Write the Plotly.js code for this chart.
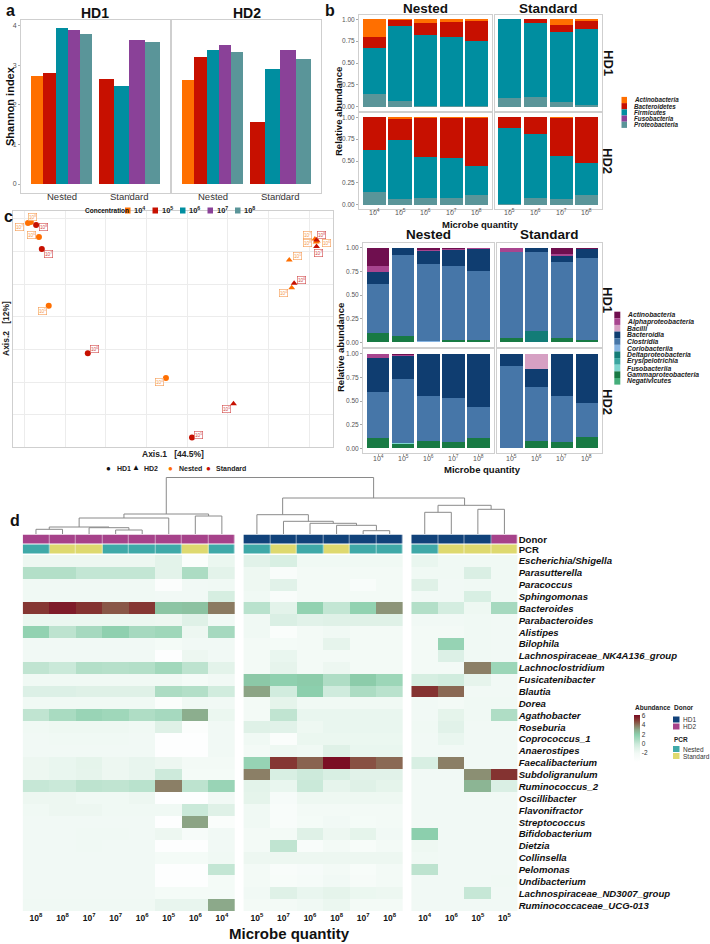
<!DOCTYPE html>
<html><head><meta charset="utf-8">
<script src="https://cdn.plot.ly/plotly-3.0.1.min.js"></script>
<style>html,body{margin:0;padding:0;background:#fff;}#chart{width:710px;height:944px;}</style>
</head><body><div id="chart"></div><script>
// ================= DATA =================
const concentrations = ['10^4','10^5','10^6','10^7','10^8'];
const concColors = ['#FF6F00','#C71000','#008EA0','#8A4198','#5A9599'];
const pcrGroups = ['Nested','Standard'];
const nestedSamples = ['10^4','10^5','10^6','10^7','10^8'];
const standardSamples = ['10^5','10^6','10^7','10^8'];

// Panel a : Shannon index
const shannonHD1Nested   = [2.72, 2.81, 3.94, 3.89, 3.80];
const shannonHD1Standard = [2.66, 2.47, 3.65, 3.58];
const shannonHD2Nested   = [2.64, 3.21, 3.38, 3.51, 3.33];
const shannonHD2Standard = [1.56, 2.90, 3.38, 3.16];

// Panel b (top) : phylum relative abundance, rows follow `phyla`
const phyla = ['Actinobacteria','Bacteroidetes','Firmicutes','Fusobacteria','Proteobacteria'];
const phylumColors = ['#FF6F00','#C71000','#008EA0','#8A4198','#5A9599'];
const phylumHD1Nested = [
  [0.20, 0.01, 0.04, 0.03, 0.015],
  [0.13, 0.07, 0.14, 0.17, 0.235],
  [0.52, 0.86, 0.815, 0.79, 0.74],
  [0, 0, 0, 0, 0],
  [0.15, 0.06, 0.005, 0.01, 0.01]];
const phylumHD1Standard = [
  [0, 0, 0.07, 0.015],
  [0, 0.045, 0.07, 0.095],
  [0.905, 0.845, 0.805, 0.87],
  [0, 0, 0, 0],
  [0.095, 0.11, 0.055, 0.02]];
const phylumHD2Nested = [
  [0, 0.02, 0.01, 0.005, 0.005],
  [0.374, 0.243, 0.44, 0.461, 0.555],
  [0.486, 0.677, 0.47, 0.454, 0.33],
  [0, 0, 0, 0, 0],
  [0.14, 0.06, 0.08, 0.08, 0.11]];
const phylumHD2Standard = [
  [0, 0, 0.01, 0],
  [0.122, 0.187, 0.437, 0.523],
  [0.875, 0.737, 0.488, 0.367],
  [0, 0, 0, 0],
  [0.003, 0.076, 0.065, 0.11]];

// Panel b (bottom) : class relative abundance, rows follow `classes`
const classes = ['Actinobacteria','Alphaproteobacteria','Bacilli','Bacteroidia','Clostridia','Coriobacteriia',
  'Deltaproteobacteria','Erysipelotrichia','Fusobacteriia','Gammaproteobacteria','Negativicutes'];
const classColors = ['#6f0f4f','#a8458f','#d6a0c3','#0f3d70','#4676a8','#86b4e2','#137c77','#3aa6a0','#7ed6cf','#187a44','#45ae7a'];
const classHD1Nested = [
  [0.19, 0, 0.02, 0.015, 0.005],
  [0.064, 0, 0.015, 0.01, 0.005],
  [0, 0, 0, 0, 0],
  [0.133, 0.08, 0.135, 0.169, 0.233],
  [0.513, 0.853, 0.815, 0.786, 0.732],
  [0.005, 0, 0.01, 0, 0.005],
  [0, 0, 0, 0, 0],
  [0, 0, 0, 0, 0],
  [0, 0, 0, 0, 0],
  [0.095, 0.067, 0.005, 0.02, 0.02],
  [0, 0, 0, 0, 0]];
const classHD1Standard = [
  [0, 0, 0.067, 0.01],
  [0.05, 0, 0.018, 0.008],
  [0, 0, 0, 0],
  [0, 0.042, 0.063, 0.088],
  [0.90, 0.843, 0.812, 0.874],
  [0, 0, 0, 0],
  [0, 0.115, 0, 0],
  [0, 0, 0, 0],
  [0, 0, 0, 0],
  [0.05, 0, 0.04, 0.02],
  [0, 0, 0, 0]];
const classHD2Nested = [
  [0, 0.01, 0, 0, 0],
  [0.042, 0.015, 0.005, 0.005, 0],
  [0, 0, 0, 0, 0],
  [0.366, 0.243, 0.442, 0.46, 0.567],
  [0.486, 0.676, 0.473, 0.465, 0.327],
  [0, 0, 0.006, 0, 0],
  [0, 0, 0, 0, 0],
  [0, 0, 0, 0, 0],
  [0, 0.01, 0, 0, 0],
  [0.106, 0.046, 0.074, 0.07, 0.106],
  [0, 0, 0, 0, 0]];
const classHD2Standard = [
  [0, 0, 0, 0],
  [0, 0, 0.005, 0],
  [0, 0.165, 0, 0],
  [0.13, 0.184, 0.439, 0.521],
  [0.865, 0.571, 0.486, 0.363],
  [0, 0, 0, 0],
  [0, 0, 0, 0],
  [0, 0, 0, 0],
  [0, 0, 0, 0],
  [0.005, 0.08, 0.07, 0.116],
  [0, 0, 0, 0]];

// Panel c : PCoA
const pcoaDonor = ['HD1','HD1','HD1','HD1','HD1','HD1','HD1','HD1','HD1','HD2','HD2','HD2','HD2','HD2','HD2','HD2','HD2','HD2'];
const pcoaPCR   = ['Nested','Nested','Nested','Nested','Nested','Standard','Standard','Standard','Standard',
                   'Nested','Nested','Nested','Nested','Nested','Standard','Standard','Standard','Standard'];
const pcoaConc  = ['10^4','10^5','10^6','10^7','10^8','10^5','10^6','10^7','10^8',
                   '10^4','10^5','10^6','10^7','10^8','10^5','10^6','10^7','10^8'];
const pcoaAxis1 = [0.048,-0.240,-0.264,-0.291,-0.284, 0.112,-0.144,-0.257,-0.271,
                   0.357, 0.351, 0.420, 0.414, 0.417, 0.214, 0.363, 0.418, 0.418];
const pcoaAxis2 = [-0.087, 0.134, 0.344, 0.387, 0.390,-0.269,-0.011, 0.308, 0.381,
                    0.189, 0.274, 0.332, 0.338, 0.329,-0.166, 0.203, 0.315, 0.335];
// label nudges (px) for the repelled labels
const pcoaLabelDX = [-6,-6,-7,-8, 2, 7, 7, 7, 7,  -8, 8, 9,-7,-9,-7, 7, 2, 5];
const pcoaLabelDY = [ 4, 5,-2, 4,-5,-3,-4, 5, 2,   5,-4, 2,-4, 1, 5,-3, 6,-5];

// Panel d : heatmap
const genera = ['Escherichia/Shigella','Parasutterella','Paracoccus','Sphingomonas','Bacteroides','Parabacteroides',
  'Alistipes','Bilophila','Lachnospiraceae_NK4A136_group','Lachnoclostridium','Fusicatenibacter','Blautia','Dorea',
  'Agathobacter','Roseburia','Coprococcus_1','Anaerostipes','Faecalibacterium','Subdoligranulum','Ruminococcus_2',
  'Oscillibacter','Flavonifractor','Streptococcus','Bifidobacterium','Dietzia','Collinsella','Pelomonas',
  'Undibacterium','Lachnospiraceae_ND3007_group','Ruminococcaceae_UCG-013'];
const heatConc  = [['10^8','10^8','10^7','10^7','10^6','10^5','10^6','10^4'],
                   ['10^5','10^7','10^6','10^8','10^7','10^8'],
                   ['10^4','10^6','10^5','10^5']];
const heatDonor = [['HD2','HD2','HD2','HD2','HD2','HD2','HD2','HD2'],
                   ['HD1','HD1','HD1','HD1','HD1','HD1'],
                   ['HD1','HD1','HD1','HD2']];
const heatPCR   = [['Nested','Standard','Standard','Nested','Nested','Nested','Standard','Nested'],
                   ['Nested','Standard','Nested','Standard','Nested','Nested'],
                   ['Nested','Standard','Standard','Standard']];
const abundanceBlock1 = [
  [-1.6,-1.6,-1.6,-1.6,-1.6,-1.0,-3.0,-1.5],
  [ 0.8, 0.8, 0.3, 0.3, 0.3,-1.0, 1.0,-1.0],
  [-1.8,-1.8,-1.8,-1.8,-1.8,-3.2,-1.9,-1.8],
  [-1.8,-1.8,-1.8,-1.8,-1.8,-1.9,-1.9,-0.4],
  [ 5.2, 5.8, 5.3, 4.6, 5.2, 2.3, 2.4, 4.0],
  [-1.5,-1.5,-1.5,-1.5,-1.5,-1.6,-0.8,-1.9],
  [ 1.8, 0.5, 1.2, 1.9, 1.2, 1.4,-1.6, 1.2],
  [-1.9,-1.9,-1.9,-1.9,-1.9,-2.2,-1.9,-1.9],
  [-1.9,-1.9,-1.9,-1.9,-1.9,-3.5,-1.6,-1.9],
  [ 0.4, 0.1, 0.8, 0.7, 0.8, 1.3, 0.5,-1.0],
  [-1.8,-1.8,-1.8,-1.8,-1.8,-1.8,-2.2,-1.9],
  [-0.7,-0.7,-0.8,-0.8,-0.8, 1.0, 0.8,-0.2],
  [-1.8,-1.8,-1.8,-1.8,-1.8,-3.0,-1.8,-1.9],
  [ 0.4, 1.1, 1.6, 1.4, 0.9, 1.2, 3.0,-1.5],
  [-1.8,-1.7,-1.7,-1.7,-1.8,-0.8,-3.2,-1.9],
  [-1.9,-1.8,-1.8,-1.8,-1.9,-3.5,-3.5,-1.9],
  [-1.9,-1.9,-1.9,-1.9,-1.9,-3.5,-3.5,-1.9],
  [-1.6,-1.4,-1.1,-1.6,-1.3,-1.6,-2.0,-2.0],
  [-1.6,-1.4,-1.2,-1.6,-1.3, 0.0,-2.2,-2.2],
  [ 0.2, 0.1, 0.5, 0.4, 0.6, 3.9, 0.5, 1.6],
  [-1.6,-1.6,-1.8,-1.8,-1.6,-3.5,-3.5,-1.9],
  [-1.8,-1.6,-1.6,-1.8,-1.8,-1.8, 0.1,-0.8],
  [-1.9,-1.9,-1.9,-1.9,-1.9,-3.5, 3.2,-3.0],
  [-1.9,-1.9,-1.8,-1.8,-1.9,-1.6,-2.5,-1.9],
  [-1.9,-1.9,-1.8,-1.9,-1.9,-3.5,-3.5,-1.9],
  [-1.9,-1.9,-1.9,-1.9,-1.9,-2.2,-2.2,-1.8],
  [-1.9,-1.9,-1.9,-1.9,-1.9,-3.5,-3.5, 0.3],
  [-1.9,-1.9,-1.9,-1.9,-1.9,-3.5,-3.5,-2.2],
  [-1.9,-1.9,-1.9,-1.9,-1.9,-2.2,-2.2,-2.2],
  [-1.8,-1.8,-1.8,-1.8,-1.8,-1.3,-1.3, 3.1]];
const abundanceBlock2 = [
  [-0.9,-0.5,-1.8,-1.8,-1.8,-1.8],
  [-1.7,-2.8,-2.0,-2.0,-2.0,-2.0],
  [-1.7,-0.9,-2.0,-2.0,-2.8,-2.0],
  [-1.8,-2.8,-2.0,-2.0,-2.0,-2.0],
  [ 0.6,-1.0, 1.8, 0.3, 1.8, 3.5],
  [-1.8,-0.6,-0.9,-0.8,-0.8,-0.8],
  [-1.8,-3.0,-2.0,-1.8,-2.0,-2.0],
  [-2.0,-2.2,-2.0,-1.2,-2.0,-2.0],
  [-2.0,-1.4,-2.0,-2.0,-2.0,-2.0],
  [-2.0,-1.2,-2.0,-1.6,-2.0,-2.0],
  [ 2.2, 1.9, 2.1, 0.9, 2.1, 1.5],
  [ 3.2,-0.2, 2.0,-0.1, 1.0, 0.6],
  [-2.0,-1.1,-1.8,-1.8,-1.8,-1.8],
  [-2.0, 0.4,-1.4,-1.4,-1.4,-1.4],
  [-0.8,-0.9,-1.7,-1.4,-1.4,-1.4],
  [-1.8,-3.0,-1.5,-1.5,-1.5,-1.5],
  [-2.0,-1.7,-1.8,-0.8,-1.4,-1.4],
  [ 1.7, 5.2, 4.4, 6.1, 4.7, 4.3],
  [ 3.9,-0.5, 0.0,-0.5,-0.9,-0.9],
  [-1.0,-1.4, 0.1,-1.2,-0.8,-1.1],
  [-1.1,-2.5,-1.7,-1.7,-1.7,-1.7],
  [-1.8,-2.8,-2.0,-2.0,-2.0,-2.0],
  [-1.8,-2.8,-2.2,-1.9,-2.2,-2.0],
  [-2.0,-2.0,-0.8,-1.6,-1.1,-1.9],
  [-2.0, 0.4,-2.8,-2.0,-2.6,-2.0],
  [-1.6,-1.6,-1.6,-1.6,-1.6,-1.6],
  [-2.0,-2.8,-2.5,-2.0,-2.6,-2.0],
  [-2.0,-2.6,-2.3,-1.9,-2.4,-2.0],
  [-1.9,-0.8,-1.4,-1.1,-1.5,-1.6],
  [-2.0,-2.0,-1.8,-1.5,-2.0,-2.0]];
const abundanceBlock3 = [
  [-1.4,-1.8,-1.8,-1.8],
  [-1.8,-1.8,-0.6,-1.8],
  [-0.8,-1.9,-1.8,-1.8],
  [-1.9,-1.9,-0.5,-1.8],
  [ 0.8,-0.3,-1.7, 1.2],
  [-1.9,-1.9,-1.8,-1.9],
  [-2.0,-2.0,-1.8,-1.9],
  [-2.0, 1.7,-1.8,-1.9],
  [-2.0,-0.7,-1.8,-1.9],
  [-2.0,-2.0, 3.9, 1.5],
  [-0.4,-0.2,-1.2,-1.9],
  [ 5.3, 4.3,-1.9,-1.9],
  [-1.9,-2.0,-1.8,-1.8],
  [-1.9,-1.1,-1.8, 0.9],
  [-1.8,-0.9,-1.9,-1.9],
  [-1.9,-1.4,-1.9,-1.9],
  [-1.9,-1.9,-1.9,-1.9],
  [-0.5, 3.9,-1.9,-1.9],
  [-1.9,-1.9, 3.6, 5.3],
  [-1.9,-1.9, 2.8,-0.6],
  [-1.9,-1.9,-1.9,-1.9],
  [-1.9,-1.9,-1.9,-1.9],
  [-1.9,-1.9,-1.9,-1.9],
  [ 2.0,-1.9,-1.9,-1.9],
  [-1.7,-1.9,-1.9,-1.9],
  [-1.8,-1.9,-1.9,-1.9],
  [ 0.5,-1.9,-1.9,-1.9],
  [-1.9,-1.9,-1.9,-1.8],
  [-1.9,-1.9, 0.2,-1.9],
  [-1.9,-1.9,-1.9,-1.9]];
// column dendrogram (hclust style): negative = leaf column (1-based), positive = earlier merge (1-based)
const dendroLeft   = [-1,-4,-3, 1, 4,-7, 5, -13,-12,-11,-10, -9, -15,-17, 13, 12,  7];
const dendroRight  = [-2,-5, 2, 3,-6,-8, 6, -14,  8,  9, 10, 11, -16,-18, 14, 15, 16];
const dendroHeight = [4.7,4.0,6.3,7.0,16,18,20, 3.3,8.7,10.7,12.7,19.3, 21.7,24.7,28.7,36,56.5];

// ================= LAYOUT HELPERS =================
const W = 710, H = 944;
const dx = (a, b) => [a / W, b / W];
const dy = (t, b) => [1 - b / H, 1 - t / H];
const FONT = 'Liberation Sans, Arial, Helvetica, sans-serif';
const sup = c => '10<sup>' + c.split('^')[1] + '</sup>';
const traces = [];
const annotations = [];
const shapes = [];
const layout = {
  width: W, height: H, margin: {l: 0, r: 0, t: 0, b: 0}, paper_bgcolor: '#fff', plot_bgcolor: '#fff',
  font: {family: FONT, color: '#222'}, showlegend: false, barmode: 'stack'
};
const boxAxis = () => ({showline: true, mirror: true, linecolor: '#cfcfcf', linewidth: 1, showgrid: false, zeroline: false, fixedrange: true});
function ann(x, y, text, opts) {
  annotations.push(Object.assign({xref: 'paper', yref: 'paper', x: x / W, y: 1 - y / H, text: text, showarrow: false,
    xanchor: 'center', yanchor: 'middle', font: {size: 10, family: FONT, color: '#111'}}, opts || {}));
}
function rect(x0, y0, x1, y1, color) {
  shapes.push({type: 'rect', xref: 'paper', yref: 'paper', x0: x0 / W, x1: x1 / W, y0: 1 - y1 / H, y1: 1 - y0 / H,
    fillcolor: color, line: {width: 0}});
}

// ================= PANEL a =================
const aFacets = [
  {xa: 'x', ya: 'y', dom: dx(21, 170), nested: shannonHD1Nested, standard: shannonHD1Standard, title: 'HD1', cx: 95.5},
  {xa: 'x2', ya: 'y2', dom: dx(172, 321), nested: shannonHD2Nested, standard: shannonHD2Standard, title: 'HD2', cx: 246.5}
];
aFacets.forEach((f, k) => {
  const xs = [], ys = [], ws = [], cs = [];
  [[f.nested, nestedSamples], [f.standard, standardSamples]].forEach(([vals, samp], g) => {
    const n = samp.length, w = 0.9 / n;
    samp.forEach((s, i) => {
      xs.push(g + 1 + (i - (n - 1) / 2) * w); ws.push(w); ys.push(vals[i]);
      cs.push(concColors[concentrations.indexOf(s)]);
    });
  });
  traces.push({type: 'bar', x: xs, y: ys, width: ws, marker: {color: cs, line: {width: 0}}, xaxis: f.xa, yaxis: f.ya, hoverinfo: 'skip'});
  const xn = k === 0 ? 'xaxis' : 'xaxis2', yn = k === 0 ? 'yaxis' : 'yaxis2';
  layout[xn] = Object.assign(boxAxis(), {domain: f.dom, range: [0.4, 2.6], anchor: f.ya,
    tickvals: [1, 2], showticklabels: false, ticks: 'outside', ticklen: 2, tickcolor: '#aaa'});
  layout[yn] = Object.assign(boxAxis(), {domain: dy(20, 193), range: [-0.227, 4.144], anchor: f.xa,
    tickvals: [0, 1, 2, 3, 4], ticks: k === 0 ? 'outside' : '', ticklen: 2, tickcolor: '#aaa',
    showticklabels: k === 0, tickfont: {size: 7, color: '#555'}});
  pcrGroups.forEach((p, g) => annotations.push({xref: f.xa, yref: 'paper', x: g + 1, y: 1 - 197 / H, text: p, showarrow: false,
    xanchor: 'center', yanchor: 'middle', font: {size: 9.5, family: FONT, color: '#333'}}));
  ann(f.cx, 13, '<b>' + f.title + '</b>', {font: {size: 14, family: FONT, color: '#111'}});
});
ann(10, 106, '<b>Shannon index</b>', {textangle: -90, font: {size: 11, family: FONT, color: '#111'}});
ann(10, 0, '<b>a</b>', {yanchor: 'top', font: {size: 16, family: FONT, color: '#111'}});
// legend a
ann(83, 210.5, '<b>Concentration</b>', {xanchor: 'left', font: {size: 6.5, family: FONT, color: '#111'}});
concentrations.forEach((c, i) => {
  const x0 = 125 + i * 27.5;
  rect(x0, 207.5, x0 + 5.5, 213.5, concColors[i]);
  ann(x0 + 7, 210, '<b>' + sup(c) + '</b>', {xanchor: 'left', font: {size: 7.5, family: FONT, color: '#222'}});
});

// ================= PANEL b =================
function stacked(data, colors, samples, xa, ya) {
  for (let k = data.length - 1; k >= 0; k--) {
    traces.push({type: 'bar', x: samples.map((s, i) => i + 1), y: data[k], width: 0.9,
      marker: {color: colors[k], line: {width: 0}}, xaxis: xa, yaxis: ya, hoverinfo: 'skip'});
  }
}
const bFacets = [
  // top (phylum)
  {id: 3, data: phylumHD1Nested, col: phylumColors, s: nestedSamples, xd: dx(359, 492.3), yd: dy(15, 111), ylab: true, xlab: 0},
  {id: 4, data: phylumHD1Standard, col: phylumColors, s: standardSamples, xd: dx(494.5, 602), yd: dy(15, 111), ylab: false, xlab: 0},
  {id: 5, data: phylumHD2Nested, col: phylumColors, s: nestedSamples, xd: dx(359, 492.3), yd: dy(113, 209), ylab: true, xlab: 212.5},
  {id: 6, data: phylumHD2Standard, col: phylumColors, s: standardSamples, xd: dx(494.5, 602), yd: dy(113, 209), ylab: false, xlab: 212.5},
  // bottom (class)
  {id: 7, data: classHD1Nested, col: classColors, s: nestedSamples, xd: dx(363, 493.5), yd: dy(243, 347), ylab: true, xlab: 0},
  {id: 8, data: classHD1Standard, col: classColors, s: standardSamples, xd: dx(496.5, 602), yd: dy(243, 347), ylab: false, xlab: 0},
  {id: 9, data: classHD2Nested, col: classColors, s: nestedSamples, xd: dx(363, 493.5), yd: dy(349, 453), ylab: true, xlab: 457.5},
  {id: 10, data: classHD2Standard, col: classColors, s: standardSamples, xd: dx(496.5, 602), yd: dy(349, 453), ylab: false, xlab: 457.5}
];
bFacets.forEach(f => {
  const xa = 'x' + f.id, ya = 'y' + f.id;
  stacked(f.data, f.col, f.s, xa, ya);
  layout['xaxis' + f.id] = Object.assign(boxAxis(), {domain: f.xd, anchor: ya, range: [0.4, f.s.length + 0.6],
    tickvals: f.s.map((s, i) => i + 1), showticklabels: false,
    ticks: f.xlab ? 'outside' : '', ticklen: 2, tickcolor: '#aaa'});
  layout['yaxis' + f.id] = Object.assign(boxAxis(), {domain: f.yd, anchor: xa, range: [-0.05, 1.05],
    tickvals: [0, 0.25, 0.5, 0.75, 1], ticktext: ['0.00', '0.25', '0.50', '0.75', '1.00'],
    showticklabels: f.ylab, ticks: f.ylab ? 'outside' : '', ticklen: 2, tickcolor: '#aaa', tickfont: {size: 6.5, color: '#555'}});
  if (f.xlab) f.s.forEach((s, i) => annotations.push({xref: xa, yref: 'paper', x: i + 1, y: 1 - f.xlab / H, text: sup(s),
    showarrow: false, xanchor: 'center', yanchor: 'middle', font: {size: 7, family: FONT, color: '#555'}}));
});
ann(330, 0, '<b>b</b>', {yanchor: 'top', font: {size: 16, family: FONT, color: '#111'}});
ann(425.6, 8.5, '<b>Nested</b>', {font: {size: 13.5, family: FONT, color: '#111'}});
ann(548.2, 8.5, '<b>Standard</b>', {font: {size: 13.5, family: FONT, color: '#111'}});
ann(608, 63, '<b>HD1</b>', {textangle: 90, font: {size: 13, family: FONT, color: '#111'}});
ann(608, 161, '<b>HD2</b>', {textangle: 90, font: {size: 13, family: FONT, color: '#111'}});
ann(338, 112, '<b>Relative abundance</b>', {textangle: -90, font: {size: 9.5, family: FONT, color: '#111'}});
ann(480, 224, '<b>Microbe quantity</b>', {font: {size: 9.5, family: FONT, color: '#111'}});
phyla.forEach((p, i) => {
  const y = 100 + i * 6.2;
  rect(621.5, y - 3.1, 627, y + 3.1, phylumColors[i]);
  ann(631.5, y, '<b><i>' + p + '</i></b>', {xanchor: 'left', font: {size: 6.3, family: FONT, color: '#222'}});
});
ann(428, 235, '<b>Nested</b>', {font: {size: 13.5, family: FONT, color: '#111'}});
ann(549, 235, '<b>Standard</b>', {font: {size: 13.5, family: FONT, color: '#111'}});
ann(608, 300, '<b>HD1</b>', {textangle: 90, font: {size: 13, family: FONT, color: '#111'}});
ann(608, 402, '<b>HD2</b>', {textangle: 90, font: {size: 13, family: FONT, color: '#111'}});
ann(340, 348, '<b>Relative abundance</b>', {textangle: -90, font: {size: 9.5, family: FONT, color: '#111'}});
ann(482, 469.5, '<b>Microbe quantity</b>', {font: {size: 9.5, family: FONT, color: '#111'}});
classes.forEach((c, i) => {
  const y = 315 + i * 6.63;
  rect(614.3, y - 3.32, 620.3, y + 3.32, classColors[i]);
  ann(624.5, y, '<b><i>' + c + '</i></b>', {xanchor: 'left', font: {size: 6.8, family: FONT, color: '#222'}});
});

// ================= PANEL c =================
const pcColor = {Nested: '#FF6F00', Standard: '#C71000'};
const pcLabColor = {Nested: '#f59a50', Standard: '#d24a4a'};
traces.push({type: 'scatter', mode: 'markers', x: pcoaAxis1, y: pcoaAxis2, xaxis: 'x11', yaxis: 'y11', hoverinfo: 'skip',
  marker: {size: 6, color: pcoaPCR.map(p => pcColor[p]), symbol: pcoaDonor.map(d => d === 'HD1' ? 'circle' : 'triangle-up'), line: {width: 0}}});
layout.xaxis11 = Object.assign(boxAxis(), {domain: dx(13, 333), anchor: 'y11', range: [-0.3278, 0.4585], tick0: -0.3, dtick: 0.1,
  showgrid: true, gridcolor: '#ececec', gridwidth: 1, showticklabels: false, ticks: ''});
layout.yaxis11 = Object.assign(boxAxis(), {domain: dy(211, 447), anchor: 'x11', range: [-0.2979, 0.4239], tick0: 0, dtick: 0.1,
  showgrid: true, gridcolor: '#ececec', gridwidth: 1, showticklabels: false, ticks: ''});
pcoaAxis1.forEach((x, i) => {
  annotations.push({xref: 'x11', yref: 'y11', x: x, y: pcoaAxis2[i], text: sup(pcoaConc[i]), showarrow: true,
    arrowcolor: 'rgba(0,0,0,0)', ax: pcoaLabelDX[i], ay: pcoaLabelDY[i], font: {size: 4.8, family: FONT, color: pcLabColor[pcoaPCR[i]]},
    bgcolor: 'rgba(255,255,255,0.85)', bordercolor: pcLabColor[pcoaPCR[i]], borderwidth: 0.6, borderpad: 0.3});
});
ann(8, 216, '<b>c</b>', {font: {size: 16, family: FONT, color: '#111'}});
ann(173, 454, '<b>Axis.1   [44.5%]</b>', {font: {size: 8.5, family: FONT, color: '#222'}});
ann(6, 329, '<b>Axis.2   [12%]</b>', {textangle: -90, font: {size: 8.5, family: FONT, color: '#222'}});
ann(108.3, 468.3, '●', {font: {size: 8, family: FONT, color: '#111'}});
ann(115, 468.3, '<b>HD1</b>', {xanchor: 'left', font: {size: 7, family: FONT, color: '#222'}});
ann(135.7, 467.8, '▲', {font: {size: 8, family: FONT, color: '#111'}});
ann(142, 468.3, '<b>HD2</b>', {xanchor: 'left', font: {size: 7, family: FONT, color: '#222'}});
ann(170, 468.3, '●', {font: {size: 8, family: FONT, color: '#FF6F00'}});
ann(176.5, 468.3, '<b>Nested</b>', {xanchor: 'left', font: {size: 7, family: FONT, color: '#222'}});
ann(208.3, 468.3, '●', {font: {size: 8, family: FONT, color: '#C71000'}});
ann(214, 468.3, '<b>Standard</b>', {xanchor: 'left', font: {size: 7, family: FONT, color: '#222'}});

// ================= PANEL d =================
const GAP = 0.32;
const blocks = [abundanceBlock1, abundanceBlock2, abundanceBlock3];
const colX = [];
let gidx = 0;
blocks.forEach((b, bi) => { colX.push(b[0].map(() => (gidx++) + bi * GAP)); });
const allX = [].concat(...colX);
const donorColor = {HD1: '#11427a', HD2: '#a6428a'};
const pcrColor = {Nested: '#3fa9a8', Standard: '#ded96f'};
const annCode = {HD1: 0, HD2: 1, Nested: 2, Standard: 3};
blocks.forEach((b, bi) => {
  traces.push({type: 'heatmap', x: colX[bi], y: genera.map((g, i) => i), z: b, coloraxis: 'coloraxis',
    xaxis: 'x12', yaxis: 'y12', hoverinfo: 'skip', xgap: 0, ygap: 0});
  traces.push({type: 'heatmap', x: colX[bi], y: [0, 1], z: [heatDonor[bi].map(d => annCode[d]), heatPCR[bi].map(p => annCode[p])],
    zmin: -0.5, zmax: 3.5, showscale: false, xaxis: 'x12', yaxis: 'y13', hoverinfo: 'skip', xgap: 0.5, ygap: 1,
    colorscale: [[0, donorColor.HD1], [0.25, donorColor.HD1], [0.25, donorColor.HD2], [0.5, donorColor.HD2],
      [0.5, pcrColor.Nested], [0.75, pcrColor.Nested], [0.75, pcrColor.Standard], [1, pcrColor.Standard]]});
});
layout.coloraxis = {cmin: -3.8, cmax: 6.2,
  colorscale: [[0, '#ffffff'], [0.18, '#f3faf6'], [0.28, '#e3f3ea'], [0.38, '#cdeadb'], [0.48, '#acdcc3'],
    [0.58, '#8ccfad'], [0.68, '#8cae8e'], [0.78, '#8b7a61'], [0.88, '#874036'], [1, '#7a0a22']],
  colorbar: {thickness: 6, thicknessmode: 'pixels', len: 47, lenmode: 'pixels', x: 634 / W, xanchor: 'left',
    y: 1 - 714.5 / H, yanchor: 'top', xpad: 0, ypad: 0, outlinewidth: 0, tickvals: [-2, 0, 2, 4, 6],
    ticktext: ['-2', '0', '2', '4', '6'], ticks: '', tickfont: {size: 6.5, family: FONT, color: '#333'}}};
layout.xaxis12 = {domain: dx(22.7, 517.7), anchor: 'y12', range: [-0.5, allX[allX.length - 1] + 0.5], showgrid: false, zeroline: false,
  showline: false, ticks: '', tickvals: allX, ticktext: [].concat(...heatConc).map(sup),
  tickfont: {size: 8.5, family: FONT, color: '#111', weight: 'bold'}, fixedrange: true};
layout.yaxis12 = {domain: dy(555, 911.3), anchor: 'x12', side: 'right', range: [genera.length - 0.5, -0.5], showgrid: false,
  zeroline: false, ticks: '', tickvals: genera.map((g, i) => i), ticktext: genera,
  tickfont: {size: 9.6, family: FONT, color: '#111', weight: 'bold', style: 'italic'}, fixedrange: true};
layout.yaxis13 = {domain: dy(534.5, 554.5), anchor: 'x12', side: 'right', range: [1.5, -0.5], showgrid: false, zeroline: false,
  ticks: '', tickvals: [0, 1], ticktext: ['Donor', 'PCR'], tickfont: {size: 9.6, family: FONT, color: '#111', weight: 'bold'}, fixedrange: true};
layout.yaxis14 = {domain: dy(475, 534), anchor: 'x12', range: [0, 59], visible: false, fixedrange: true};
// dendrogram segments from merge table
const nodeX = [], nodeH = [];
const childX = c => c < 0 ? allX[-c - 1] : nodeX[c - 1];
const childH = c => c < 0 ? 0 : nodeH[c - 1];
const dxs = [], dys = [];
dendroLeft.forEach((l, i) => {
  const r = dendroRight[i], h = dendroHeight[i];
  const xl = childX(l), xr = childX(r);
  dxs.push(xl, xl, xr, xr, null); dys.push(childH(l), h, h, childH(r), null);
  nodeX.push((xl + xr) / 2); nodeH.push(h);
});
traces.push({type: 'scatter', mode: 'lines', x: dxs, y: dys, xaxis: 'x12', yaxis: 'y14', hoverinfo: 'skip',
  line: {color: '#8a8a8a', width: 1}, connectgaps: false});
ann(15, 520, '<b>d</b>', {font: {size: 16, family: FONT, color: '#111'}});
ann(289, 933, '<b>Microbe quantity</b>', {font: {size: 15, family: FONT, color: '#111'}});
ann(633, 707, '<b>Abundance</b>', {xanchor: 'left', font: {size: 6.5, family: FONT, color: '#222'}});
ann(672, 707.5, '<b>Donor</b>', {xanchor: 'left', font: {size: 6.5, family: FONT, color: '#222'}});
['HD1', 'HD2'].forEach((d, i) => {
  const y = 719.5 + i * 7;
  rect(673, y - 3, 679.5, y + 3, donorColor[d]);
  ann(681, y, d, {xanchor: 'left', font: {size: 6.5, family: FONT, color: '#333'}});
});
ann(672, 739, '<b>PCR</b>', {xanchor: 'left', font: {size: 6.5, family: FONT, color: '#222'}});
['Nested', 'Standard'].forEach((p, i) => {
  const y = 749 + i * 7;
  rect(673, y - 3, 679.5, y + 3, pcrColor[p]);
  ann(681, y, p, {xanchor: 'left', font: {size: 6.5, family: FONT, color: '#333'}});
});

layout.annotations = annotations;
layout.shapes = shapes;
Plotly.newPlot('chart', traces, layout, {staticPlot: true, displayModeBar: false});
</script></body></html>
